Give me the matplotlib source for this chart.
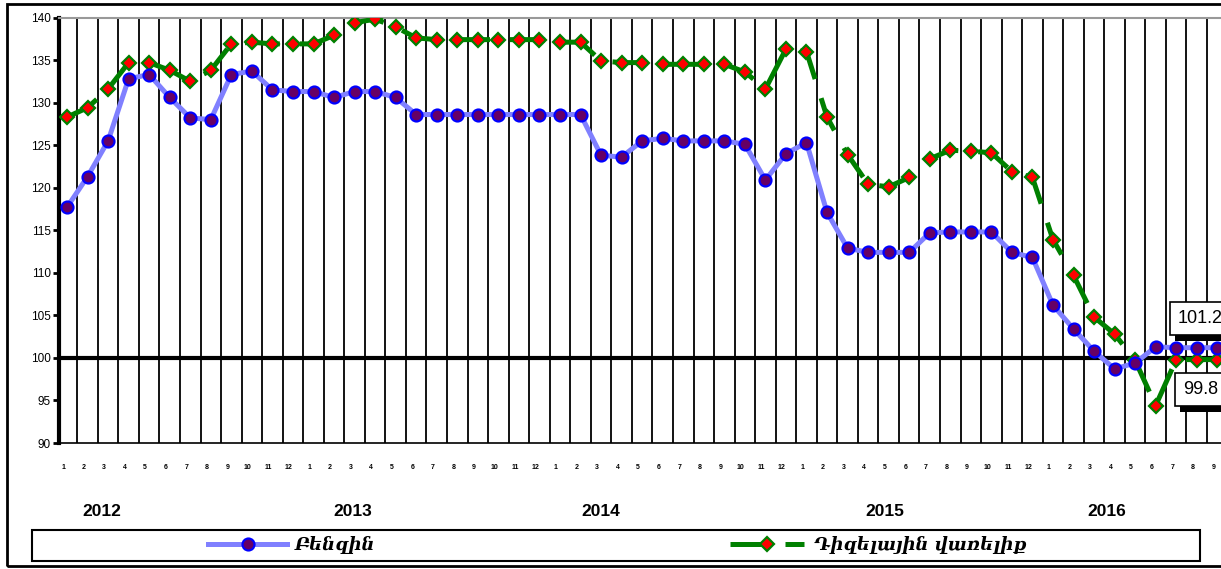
import matplotlib
matplotlib.use("Agg")
import matplotlib.pyplot as plt
import matplotlib.patheffects as pe
from matplotlib.patches import Rectangle
from matplotlib.transforms import ScaledTranslation, blended_transform_factory
import numpy as np

# monthly index values, 2012-01 .. 2016-09
months = list(range(1, 13)) * 4 + list(range(1, 10))
years = ["2012", "2013", "2014", "2015", "2016"]
year_pos = [1.7, 13.9, 26.0, 39.8, 50.6]

petrol = [117.7, 121.3, 125.5, 132.8, 133.3, 130.6, 128.2, 128.0, 133.3, 133.7, 131.5, 131.3,
          131.3, 130.6, 131.3, 131.3, 130.6, 128.6, 128.6, 128.6, 128.6, 128.6, 128.6, 128.6,
          128.6, 128.6, 123.8, 123.6, 125.5, 125.8, 125.5, 125.5, 125.5, 125.1, 120.9, 124.0,
          125.3, 117.1, 112.9, 112.4, 112.4, 112.4, 114.7, 114.8, 114.8, 114.8, 112.4, 111.8,
          106.2, 103.4, 100.8, 98.7, 99.4, 101.3, 101.2, 101.2, 101.2]
diesel = [128.3, 129.4, 131.6, 134.7, 134.7, 133.8, 132.5, 133.8, 136.9, 137.1, 136.9, 136.9,
          136.9, 137.9, 139.4, 139.8, 138.9, 137.6, 137.4, 137.4, 137.4, 137.4, 137.4, 137.4,
          137.1, 137.1, 134.9, 134.7, 134.7, 134.5, 134.5, 134.5, 134.5, 133.6, 131.6, 136.3,
          136.0, 128.3, 123.9, 120.4, 120.1, 121.2, 123.4, 124.4, 124.3, 124.1, 121.9, 121.2,
          113.9, 109.7, 104.8, 102.8, 99.7, 94.4, 99.8, 99.8, 99.8]
names = ["Բենզին", "Դիզելային վառելիք"]

W, H = 1221, 569
fig = plt.figure(figsize=(W / 100, H / 100), dpi=100)
ax = fig.add_axes([59 / W, 1 - 443 / H, (W - 59) / W, (443 - 17.5) / H])

x = np.arange(len(petrol))
ax.set_xlim(-0.39, 56.18)
ax.set_ylim(90, 140)

ax.vlines(x + 0.5, 90, 140, color="black", lw=1.3, zorder=1)
ax.axhline(100, color="black", lw=3, zorder=2)

l1, = ax.plot(x, petrol, color="#8080FF", lw=3.6, marker="o", ms=8.6,
              mfc="#660066", mec="#0000FF", mew=1.6, zorder=4, solid_joinstyle="round")
l2, = ax.plot(x, diesel, color="#008000", lw=3.6, dashes=(7, 4), marker="D", ms=7.5,
              mfc="#FF0000", mec="#008000", mew=1.6, zorder=3, dash_capstyle="butt")

ax.spines["right"].set_visible(False)
ax.spines["left"].set_linewidth(3)
ax.spines["bottom"].set_linewidth(1.2)
ax.spines["top"].set_color("#999999")
ax.spines["top"].set_linewidth(1.5)

ax.set_yticks(np.arange(90, 141, 5))
ax.tick_params(axis="y", direction="out", length=4, width=2, labelsize=8.5, pad=2)
for t in ax.get_yticklabels():
    t.set_fontfamily("Liberation Sans")

ax.set_xticks(x)
ax.set_xticklabels([str(m) for m in months], fontsize=5, fontweight="bold",
                   fontfamily="Liberation Sans")
ax.tick_params(axis="x", length=0, pad=15)
shift = ScaledTranslation(-4 / 100, 0, fig.dpi_scale_trans)
for t in ax.get_xticklabels():
    t.set_transform(t.get_transform() + shift)

trans = blended_transform_factory(ax.transData, ax.transAxes)
for yr, p in zip(years, year_pos):
    ax.text(p, -0.16, yr, transform=trans, ha="center", va="center",
            fontsize=12.5, fontweight="bold", fontfamily="Liberation Sans")

# value boxes at last point
shadow = [pe.withSimplePatchShadow(offset=(4, -4), shadow_rgbFace="black", alpha=1)]
for val, dy in [(petrol[-1], 29), (diesel[-1], -30)]:
    a = ax.annotate(f"{val:.1f}", xy=(x[-1], val), xytext=(-17, dy),
                    textcoords="offset pixels", ha="center", va="center",
                    fontsize=13, fontfamily="Liberation Sans", zorder=6,
                    bbox=dict(boxstyle="square,pad=0.45", fc="white", ec="black", lw=1.2))
    a.get_bbox_patch().set_path_effects(shadow)

# frames
fig.patches.append(Rectangle((7 / W, 3 / H), 1.0, (566 - 4) / H, transform=fig.transFigure,
                             fill=False, ec="black", lw=2))
fig.patches.append(Rectangle((32 / W, 1 - 561 / H), 1168 / W, 31 / H, transform=fig.transFigure,
                             fill=False, ec="black", lw=1.5))

lg_font = dict(family="DejaVu Serif", style="italic", weight="bold", size=13)
leg1 = fig.legend([l1], [names[0]], loc="center left", bbox_to_anchor=(208 / W, 1 - 545 / H),
                  frameon=False, prop=lg_font, handlelength=4.4, handletextpad=0.4,
                  borderpad=0, borderaxespad=0)
leg2 = fig.legend([l2], [names[1]], loc="center left", bbox_to_anchor=(730 / W, 1 - 545 / H),
                  frameon=False, prop=lg_font, handlelength=4.1, handletextpad=0.55,
                  borderpad=0, borderaxespad=0)

fig.savefig("out.png", dpi=100)
